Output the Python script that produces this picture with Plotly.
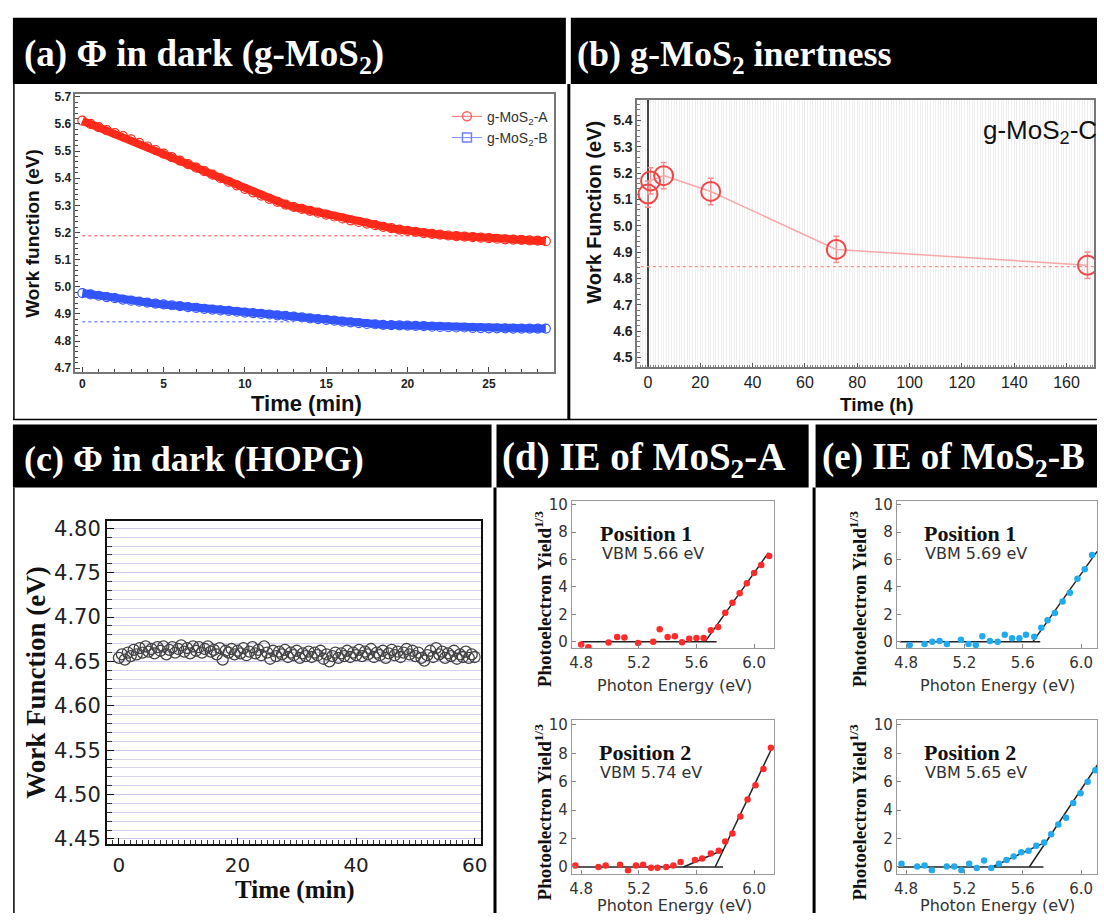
import plotly.graph_objects as go

W, H = 1104, 920
def px(x): return x / W
def py(y): return 1 - y / H

SANS = "Liberation Sans"
SERIF = "Liberation Serif"
DV = "DejaVu Sans"

# ---------------- data ----------------
# (a) work function in dark, g-MoS2
time_a = [0, 0.5, 1, 1.5, 2, 2.5, 3, 3.5, 4, 4.5, 5, 5.5, 6, 6.5, 7, 7.5, 8, 8.5, 9, 9.5,
          10, 10.5, 11, 11.5, 12, 12.5, 13, 13.5, 14, 14.5, 15, 15.5, 16, 16.5, 17, 17.5, 18, 18.5, 19, 19.5,
          20, 20.5, 21, 21.5, 22, 22.5, 23, 23.5, 24, 24.5, 25, 25.5, 26, 26.5, 27, 27.5, 28, 28.5]
wf_A = [5.612, 5.600, 5.588, 5.577, 5.566, 5.555, 5.543, 5.530, 5.517, 5.504, 5.491, 5.478, 5.465, 5.452,
        5.439, 5.426, 5.413, 5.400, 5.387, 5.374, 5.361, 5.348, 5.336, 5.324, 5.313, 5.303, 5.294, 5.287,
        5.280, 5.273, 5.266, 5.259, 5.252, 5.245, 5.239, 5.233, 5.227, 5.221, 5.216, 5.211, 5.206, 5.202,
        5.198, 5.195, 5.192, 5.189, 5.187, 5.185, 5.183, 5.181, 5.179, 5.177, 5.175, 5.174, 5.173, 5.171,
        5.170, 5.168]
wf_B = [4.977, 4.972, 4.967, 4.962, 4.958, 4.953, 4.949, 4.945, 4.942, 4.938, 4.935, 4.932, 4.929, 4.925,
        4.922, 4.919, 4.916, 4.913, 4.911, 4.908, 4.905, 4.903, 4.900, 4.898, 4.895, 4.893, 4.890, 4.887,
        4.884, 4.881, 4.878, 4.875, 4.872, 4.869, 4.866, 4.863, 4.862, 4.860, 4.859, 4.858, 4.857, 4.856,
        4.855, 4.853, 4.852, 4.851, 4.850, 4.850, 4.849, 4.848, 4.847, 4.847, 4.847, 4.846, 4.846, 4.846,
        4.846, 4.846]
ref_A_t = [0, 21]
ref_A = [5.188, 5.188]
ref_B_t = [0, 13]
ref_B = [4.871, 4.871]

# (b) inertness of g-MoS2-C
time_b = [0, 1, 6, 24, 72, 168]
wf_C = [5.12, 5.17, 5.19, 5.13, 4.91, 4.85]
err_C = [0.05, 0.05, 0.05, 0.05, 0.05, 0.05]
ref_C_t = [-5, 175]
ref_C = [4.845, 4.845]

# (c) HOPG in dark
time_c = [0, 0.5, 1, 1.5, 2, 2.5, 3, 3.5, 4, 4.5, 5, 5.5, 6, 6.5, 7, 7.5, 8, 8.5, 9, 9.5,
          10, 10.5, 11, 11.5, 12, 12.5, 13, 13.5, 14, 14.5, 15, 15.5, 16, 16.5, 17, 17.5, 18, 18.5, 19, 19.5,
          20, 20.5, 21, 21.5, 22, 22.5, 23, 23.5, 24, 24.5, 25, 25.5, 26, 26.5, 27, 27.5, 28, 28.5, 29, 29.5,
          30, 30.5, 31, 31.5, 32, 32.5, 33, 33.5, 34, 34.5, 35, 35.5, 36, 36.5, 37, 37.5, 38, 38.5, 39, 39.5,
          40, 40.5, 41, 41.5, 42, 42.5, 43, 43.5, 44, 44.5, 45, 45.5, 46, 46.5, 47, 47.5, 48, 48.5, 49, 49.5,
          50, 50.5, 51, 51.5, 52, 52.5, 53, 53.5, 54, 54.5, 55, 55.5, 56, 56.5, 57, 57.5, 58, 58.5, 59, 59.5, 60]
wf_HOPG = [4.654, 4.658, 4.652, 4.660, 4.656, 4.663, 4.658, 4.665, 4.660, 4.667, 4.661, 4.664, 4.659, 4.666,
           4.662, 4.667, 4.658, 4.663, 4.666, 4.660, 4.664, 4.668, 4.661, 4.665, 4.659, 4.667, 4.662, 4.666,
           4.660, 4.664, 4.667, 4.661, 4.663, 4.658, 4.665, 4.652, 4.662, 4.660, 4.664, 4.658, 4.662, 4.659,
           4.665, 4.657, 4.661, 4.666, 4.659, 4.663, 4.657, 4.667, 4.660, 4.653, 4.662, 4.656, 4.661, 4.658,
           4.663, 4.655, 4.660, 4.657, 4.662, 4.654, 4.659, 4.656, 4.661, 4.655, 4.660, 4.657, 4.662, 4.653,
           4.658, 4.650, 4.656, 4.660, 4.654, 4.659, 4.656, 4.662, 4.655, 4.660, 4.657, 4.663, 4.656, 4.661,
           4.658, 4.664, 4.655, 4.660, 4.657, 4.662, 4.654, 4.659, 4.663, 4.657, 4.661, 4.655, 4.660, 4.664,
           4.658, 4.662, 4.656, 4.660, 4.654, 4.651, 4.657, 4.662, 4.655, 4.665, 4.658, 4.661, 4.654, 4.659,
           4.656, 4.662, 4.653, 4.658, 4.655, 4.661, 4.654, 4.658, 4.655]

# (d) IE of MoS2-A, position 1 and 2
ev_d1 = [4.80, 4.85, 4.99, 5.05, 5.10, 5.195, 5.30, 5.345, 5.40, 5.45, 5.50, 5.55, 5.60, 5.65, 5.70,
         5.75, 5.80, 5.85, 5.90, 5.95, 6.00, 6.05, 6.105]
y_d1 = [-0.2, -0.4, -0.07, 0.34, 0.3, -0.1, 0.0, 0.9, 0.34, 0.39, -0.05, 0.22, 0.27, 0.27, 0.83,
        1.07, 2.12, 2.85, 3.54, 4.27, 5.02, 5.61, 6.27]
fit_d1_base_x = [4.80, 5.74]
fit_d1_base_y = [0, 0]
fit_d1_lin_x = [5.66, 6.10]
fit_d1_lin_y = [0, 6.5]

ev_d2 = [4.76, 4.92, 4.97, 5.07, 5.125, 5.18, 5.23, 5.285, 5.33, 5.39, 5.44, 5.49, 5.59, 5.64, 5.70,
         5.755, 5.80, 5.85, 5.905, 5.955, 6.01, 6.065, 6.117]
y_d2 = [0.1, 0.0, 0.1, 0.15, -0.25, 0.1, 0.15, -0.05, -0.05, 0.0, 0.1, 0.35, 0.5, 0.6, 0.95,
        1.15, 1.8, 2.35, 3.55, 4.75, 5.75, 6.9, 8.4]
fit_d2_base_x = [4.76, 5.785]
fit_d2_base_y = [0, 0]
fit_d2_knee_x = [5.51, 5.785]
fit_d2_knee_y = [0, 1.2]
fit_d2_lin_x = [5.73, 6.13]
fit_d2_lin_y = [0, 8.5]

# (e) IE of MoS2-B, position 1 and 2
ev_e1 = [4.825, 4.927, 4.98, 5.03, 5.08, 5.176, 5.228, 5.278, 5.323, 5.375, 5.428, 5.477, 5.527,
         5.577, 5.622, 5.679, 5.727, 5.77, 5.82, 5.873, 5.923, 5.975, 6.025, 6.075]
y_e1 = [-0.24, -0.17, 0.0, 0.05, -0.17, 0.14, -0.17, -0.24, 0.4, 0.05, 0.0, 0.5, 0.24,
        0.24, 0.5, 0.36, 1.02, 1.57, 2.1, 2.93, 3.57, 4.6, 5.3, 6.33]
fit_e1_base_x = [4.757, 5.72]
fit_e1_base_y = [0, 0]
fit_e1_lin_x = [5.67, 6.11]
fit_e1_lin_y = [0, 6.6]

ev_e2 = [4.769, 4.877, 4.927, 4.977, 5.079, 5.131, 5.18, 5.233, 5.285, 5.335, 5.384, 5.437, 5.489,
         5.538, 5.59, 5.64, 5.693, 5.747, 5.795, 5.844, 5.897, 5.946, 5.996, 6.045, 6.098]
y_e2 = [0.23, 0.04, 0.11, -0.23, 0.04, 0.04, -0.23, 0.23, -0.07, 0.46, -0.07, 0.23, 0.5,
        0.74, 1.04, 1.15, 1.5, 1.73, 2.31, 3.0, 3.46, 4.5, 5.2, 6.0, 6.81]
fit_e2_base_x = [4.746, 5.742]
fit_e2_base_y = [0, 0]
fit_e2_knee_x = [5.39, 5.754]
fit_e2_knee_y = [0, 1.73]
fit_e2_lin_x = [5.645, 6.12]
fit_e2_lin_y = [0, 7.3]

ie_xticks = [4.8, 5.2, 5.6, 6.0]
ie_xticktext = ["4.8", "5.2", "5.6", "6.0"]
ie_yticks = [0, 2, 4, 6, 8, 10]

# ---------------- figure ----------------
fig = go.Figure()

RED = "#ff2a1a"
BLUE = "#3355ff"

# (a)
fig.add_trace(go.Scatter(x=ref_A_t, y=ref_A, mode="lines", line=dict(color="#ff8080", width=1.5, dash="dot"),
                         showlegend=False, xaxis="x", yaxis="y"))
fig.add_trace(go.Scatter(x=ref_B_t, y=ref_B, mode="lines", line=dict(color="#8090ff", width=1.5, dash="dot"),
                         showlegend=False, xaxis="x", yaxis="y"))
fig.add_trace(go.Scatter(x=time_a, y=wf_A, mode="lines+markers", line=dict(color=RED, width=8),
                         marker=dict(symbol="circle-open", size=9, color=RED, line=dict(width=1.2)),
                         showlegend=False, xaxis="x", yaxis="y"))
fig.add_trace(go.Scatter(x=time_a, y=wf_B, mode="lines+markers", line=dict(color=BLUE, width=8),
                         marker=dict(symbol="circle-open", size=9, color=BLUE, line=dict(width=1.2)),
                         showlegend=False, xaxis="x", yaxis="y"))
fig.add_trace(go.Scatter(x=[None], y=[None], mode="lines+markers", name="g-MoS<sub>2</sub>-A",
                         line=dict(color="#ff7070", width=1),
                         marker=dict(symbol="circle-open", size=9, color="#ff6060", line=dict(width=1.5)),
                         xaxis="x", yaxis="y"))
fig.add_trace(go.Scatter(x=[None], y=[None], mode="lines+markers", name="g-MoS<sub>2</sub>-B",
                         line=dict(color="#8090ff", width=1),
                         marker=dict(symbol="square-open", size=9, color="#7080ff", line=dict(width=1.5)),
                         xaxis="x", yaxis="y"))

# (b)
fig.add_trace(go.Scatter(x=ref_C_t, y=ref_C, mode="lines", line=dict(color="#ff9090", width=1.2, dash="dot"),
                         showlegend=False, xaxis="x2", yaxis="y2"))
fig.add_trace(go.Scatter(x=time_b, y=wf_C, mode="lines+markers",
                         line=dict(color="#f8a8a8", width=1.5),
                         marker=dict(symbol="circle-open", size=19, color="#f04848", line=dict(width=2)),
                         error_y=dict(type="data", array=err_C, color="#f49090", thickness=1.5, width=3),
                         showlegend=False, xaxis="x2", yaxis="y2"))

# (c)
fig.add_trace(go.Scatter(x=time_c, y=wf_HOPG, mode="markers",
                         marker=dict(symbol="circle-open", size=11, color="#444444", line=dict(width=1.3)),
                         showlegend=False, xaxis="x3", yaxis="y3"))

# (d)/(e)
def ie_traces(ev, yv, lines, color, ax):
    for lx, ly in lines:
        fig.add_trace(go.Scatter(x=lx, y=ly, mode="lines", line=dict(color="#222222", width=1.5),
                                 showlegend=False, xaxis="x" + ax, yaxis="y" + ax))
    fig.add_trace(go.Scatter(x=ev, y=yv, mode="markers", marker=dict(size=6.5, color=color),
                             showlegend=False, xaxis="x" + ax, yaxis="y" + ax))

ie_traces(ev_d1, y_d1, [(fit_d1_base_x, fit_d1_base_y), (fit_d1_lin_x, fit_d1_lin_y)], "#ff2a2a", "4")
ie_traces(ev_d2, y_d2, [(fit_d2_base_x, fit_d2_base_y), (fit_d2_knee_x, fit_d2_knee_y),
                        (fit_d2_lin_x, fit_d2_lin_y)], "#ff2a2a", "5")
ie_traces(ev_e1, y_e1, [(fit_e1_base_x, fit_e1_base_y), (fit_e1_lin_x, fit_e1_lin_y)], "#22aaee", "6")
ie_traces(ev_e2, y_e2, [(fit_e2_base_x, fit_e2_base_y), (fit_e2_knee_x, fit_e2_knee_y),
                        (fit_e2_lin_x, fit_e2_lin_y)], "#22aaee", "7")

# ---------------- axes ----------------
def ax(domain, rng, anchor, **kw):
    d = dict(domain=domain, range=rng, anchor=anchor, showgrid=False, zeroline=False,
             showline=True, mirror=True, ticks="inside")
    d.update(kw)
    return d

bold12 = dict(family=SANS, size=12, color="#222", weight="bold")
lay = {}
lay["xaxis"] = ax([px(73), px(556)], [-0.43, 29.0], "y", tickvals=[0, 5, 10, 15, 20, 25], ticklen=5,
                  tickfont=bold12, linecolor="#777", linewidth=1.5, tickcolor="#444",
                  minor=dict(dtick=1, ticks="inside", ticklen=3, tickcolor="#444"))
lay["yaxis"] = ax([py(372), py(90)], [4.6855, 5.711], "x", dtick=0.1, tick0=4.7, tickformat=".1f", ticklen=5,
                  tickfont=bold12, linecolor="#777", linewidth=1.5, tickcolor="#444",
                  minor=dict(dtick=0.02, ticks="inside", ticklen=3, tickcolor="#444"))

lay["xaxis2"] = ax([px(640), px(1101)], [-4.1, 170.5], "y2", dtick=20, tick0=0, ticklen=4,
                   tickfont=dict(family=SANS, size=16, color="#222"), linecolor="#777", linewidth=1.5,
                   tickcolor="#555", showgrid=True, gridcolor="#ededed", gridwidth=1,
                   zeroline=True, zerolinecolor="#444", zerolinewidth=2,
                   minor=dict(dtick=1, ticks="inside", ticklen=2, tickcolor="#888", showgrid=True,
                              gridcolor="#efefef", gridwidth=1))
lay["yaxis2"] = ax([py(367), py(96)], [4.463, 5.478], "x2", dtick=0.1, tick0=4.5, tickformat=".1f", ticklen=4,
                   tickfont=dict(family=SANS, size=14, color="#222", weight="bold"), linecolor="#777",
                   linewidth=1.5, tickcolor="#555",
                   minor=dict(dtick=0.02, ticks="inside", ticklen=3, tickcolor="#777"))

lay["xaxis3"] = ax([px(105), px(482)], [-2, 61], "y3", tickvals=[0, 20, 40, 60], ticklen=6,
                   tickfont=dict(family=DV, size=20, color="#222"), linecolor="#111", linewidth=2,
                   tickcolor="#111", ticklabelstandoff=2,
                   minor=dict(dtick=1, ticks="inside", ticklen=4, tickcolor="#333"))
lay["yaxis3"] = ax([py(850), py(523)], [4.4444, 4.808], "x3", dtick=0.05, tick0=4.45, tickformat=".2f",
                   ticklen=7, tickfont=dict(family=DV, size=21, color="#222"), linecolor="#111", linewidth=2,
                   tickcolor="#111", showgrid=True, gridcolor="#c8c8ee", gridwidth=1,
                   minor=dict(dtick=0.01, ticks="inside", ticklen=5, tickcolor="#333", showgrid=True,
                              gridcolor="#d2d2f2", gridwidth=1))

ie_tick = dict(family=DV, size=15, color="#333")
def ie_axes(n, xdom, ydom, yr, xr):
    lay["xaxis" + n] = ax(xdom, xr, "y" + n, tickvals=ie_xticks, ticktext=ie_xticktext, ticklen=4,
                          tickfont=ie_tick, linecolor="#999", linewidth=1, tickcolor="#888",
                          ticklabelstandoff=1)
    lay["yaxis" + n] = ax(ydom, yr, "x" + n, tickvals=ie_yticks, ticklen=4,
                          tickfont=ie_tick, linecolor="#999", linewidth=1, tickcolor="#888")

ie_axes("4", [px(574), px(778)], [py(652), py(503)], [-0.5, 10.25], [4.735, 6.138])
ie_axes("5", [px(574), px(778)], [py(880), py(724)], [-0.46, 10.38], [4.735, 6.138])
ie_axes("6", [px(902), 1.0], [py(652), py(503)], [-0.5, 10.25], [4.737, 6.109])
ie_axes("7", [px(902), 1.0], [py(880), py(724)], [-0.46, 10.38], [4.737, 6.109])

# ---------------- frame: headers and borders ----------------
shapes = []
def rect(x0, y0, x1, y1):
    shapes.append(dict(type="rect", xref="paper", yref="paper", x0=px(x0), x1=px(x1), y0=py(y1), y1=py(y0),
                       fillcolor="black", line=dict(width=0), layer="below"))
def vline(x, y0, y1, w):
    shapes.append(dict(type="line", xref="paper", yref="paper", x0=px(x), x1=px(x), y0=py(y0), y1=py(y1),
                       line=dict(color="black", width=w)))
def hline(y, x0, x1, w):
    shapes.append(dict(type="line", xref="paper", yref="paper", x0=px(x0), x1=px(x1), y0=py(y), y1=py(y),
                       line=dict(color="black", width=w)))

rect(10, 13, 568, 80)
rect(573, 13, 1104, 80)
rect(10, 425, 493, 489)
rect(498, 425, 813, 489)
rect(820, 425, 1104, 489)
vline(11, 80, 420, 1.5)
vline(571, 80, 420, 3)
hline(420, 10, 1104, 1.5)
vline(11, 489, 920, 1.5)
vline(496.5, 489, 920, 3)
vline(818.5, 489, 920, 3)

annotations = []
def ann(text, x, y, size, family, color="black", xanchor="center", yanchor="middle", angle=0):
    annotations.append(dict(text=text, x=px(x), y=py(y), xref="paper", yref="paper", showarrow=False,
                            xanchor=xanchor, yanchor=yanchor, textangle=angle,
                            font=dict(size=size, family=family, color=color)))

ann("<b>(a) Φ in dark (g-MoS<sub>2</sub>)</b>", 19, 52, 37, SERIF, "white", xanchor="left")
ann("<b>(b) g-MoS<sub>2</sub> inertness</b>", 577, 52, 36, SERIF, "white", xanchor="left")
ann("<b>(c) Φ in dark (HOPG)</b>", 19, 460, 36, SERIF, "white", xanchor="left")
ann("<b>(d) IE of MoS<sub>2</sub>-A</b>", 502, 460, 39, SERIF, "white", xanchor="left")
ann("<b>(e) IE of MoS<sub>2</sub>-B</b>", 824, 460, 37, SERIF, "white", xanchor="left")

# axis titles
ann("<b>Work function (eV)</b>", 30, 231, 19, SANS, "#111", angle=-90)
ann("<b>Time (min)</b>", 306, 404, 22, SANS, "#111")
ann("<b>Work Function (eV)</b>", 597, 210, 20, SANS, "#111", angle=-90)
ann("<b>Time (h)</b>", 882, 405, 19, SANS, "#111")
ann("g-MoS<sub>2</sub>-C", 1106, 128, 26, SANS, "#111", xanchor="right")
ann("<b>Work Function (eV)</b>", 33, 686, 27, SERIF, "#111", angle=-90)
ann("<b>Time (min)</b>", 295, 897, 25, SERIF, "#111")

for xx in (545, 863):
    for yy in (602, 818):
        ann("<b>Photoelectron Yield<sup>1/3</sup></b>", xx, yy, 19, SERIF, "#111", angle=-90)
for xx in (678, 1004):
    for yy in (689, 912):
        ann("Photon Energy (eV)", xx, yy, 16, DV, "#333")

ann("<b>Position 1</b>", 600, 535, 22, SERIF, "#111", xanchor="left")
ann("VBM 5.66 eV", 602, 556, 16, DV, "#333", xanchor="left")
ann("<b>Position 2</b>", 599, 757, 22, SERIF, "#111", xanchor="left")
ann("VBM 5.74 eV", 600, 778, 16, DV, "#333", xanchor="left")
ann("<b>Position 1</b>", 927, 535, 22, SERIF, "#111", xanchor="left")
ann("VBM 5.69 eV", 928, 556, 16, DV, "#333", xanchor="left")
ann("<b>Position 2</b>", 927, 757, 22, SERIF, "#111", xanchor="left")
ann("VBM 5.65 eV", 928, 778, 16, DV, "#333", xanchor="left")

fig.update_layout(
    width=W, height=H, margin=dict(l=0, r=0, t=0, b=0),
    paper_bgcolor="white", plot_bgcolor="white",
    shapes=shapes, annotations=annotations,
    legend=dict(x=px(556), xanchor="right", y=py(97), yanchor="top", bgcolor="rgba(0,0,0,0)",
                font=dict(family=SANS, size=14, color="#333"), itemwidth=30, tracegroupgap=0),
    **lay,
)

fig.write_html("out.html", config={"displayModeBar": False},
               post_script="document.body.style.margin='0';document.body.style.padding='0';")
